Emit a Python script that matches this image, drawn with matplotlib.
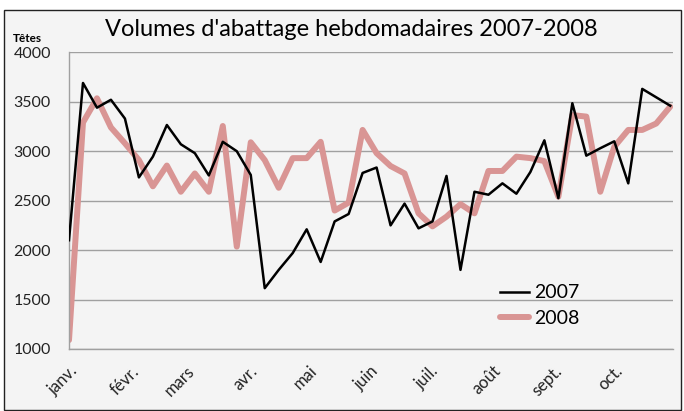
import numpy as np
import matplotlib
matplotlib.use("Agg")
import matplotlib.pyplot as plt
from matplotlib.patches import Rectangle

# weekly slaughter volumes (heads), week 0 = first week of January
v2007 = [2100, 3690, 3440, 3520, 3330, 2735, 2945, 3265, 3070, 2980,
         2755, 3095, 3000, 2760, 1615, 1800, 1970, 2210, 1880, 2290,
         2365, 2780, 2835, 2250, 2470, 2220, 2290, 2750, 1800, 2590,
         2560, 2675, 2570, 2790, 3110, 2525, 3485, 2955, 3030, 3100,
         2675, 3630, 3545, 3460]
v2008 = [1090, 3290, 3535, 3240, 3080, 2910, 2645, 2855, 2590, 2775,
         2590, 3255, 2035, 3090, 2910, 2630, 2930, 2930, 3095, 2400,
         2480, 3215, 2980, 2850, 2775, 2372, 2240, 2338, 2465, 2372,
         2800, 2800, 2945, 2930, 2900, 2540, 3365, 3350, 2590, 3045,
         3215, 3215, 3280, 3450]
months = ["janv.", "févr.", "mars", "avr.", "mai", "juin", "juil.",
          "août", "sept.", "oct."]
month_start_day = [0, 31, 59, 90, 120, 151, 181, 212, 243, 273]
yticks = [1000, 1500, 2000, 2500, 3000, 3500, 4000]

plt.rcParams['font.family'] = ['Lato', 'DejaVu Sans']

fig = plt.figure(figsize=(6.84, 4.11), dpi=100)
fig.patch.set_facecolor("white")
fig.patches.append(Rectangle((4 / 684, 1 / 411), 677 / 684, 400 / 411,
                             transform=fig.transFigure, facecolor="#F4F4F4",
                             edgecolor="#222222", linewidth=1.0, zorder=-10))

ax = fig.add_axes([69 / 684, 62 / 411, 604 / 684, 296.7 / 411])
ax.set_facecolor("none")

weeks = np.arange(len(v2007))
ax.plot(weeks, v2007, color="black", linewidth=1.8, label="2007", zorder=3)
ax.plot(weeks, v2008, color="#D99594", linewidth=4.3, label="2008", zorder=2,
        solid_capstyle="round")

ax.set_xlim(0, 43.2)
ax.set_ylim(1000, 4000)
ax.set_yticks(yticks)
ax.set_yticklabels([str(t) for t in yticks], fontsize=11.5, color="#222222")
ax.set_xticks(np.array(month_start_day) / 7)
ax.set_xticklabels(months, rotation=45, ha="right", rotation_mode="anchor",
                   fontsize=12, color="#222222")
ax.tick_params(axis="y", length=0, pad=13)
ax.tick_params(axis="x", length=0, pad=10)
ax.grid(axis="y", color="#A0A0A0", linewidth=1.0)
ax.set_axisbelow(True)
for side in ["top", "right"]:
    ax.spines[side].set_visible(False)
for side in ["left", "bottom"]:
    ax.spines[side].set_color("#A0A0A0")
    ax.spines[side].set_linewidth(1.0)

fig.text(351 / 684, 1 - 29 / 411, "Volumes d'abattage hebdomadaires 2007-2008",
         ha="center", va="center", fontsize=17, color="black")
fig.text(13 / 684, 1 - 38 / 411, "Têtes", ha="left", va="center",
         fontsize=8.5, fontweight="bold", color="black")

ax.legend(loc="upper left", bbox_to_anchor=(482 / 684, 1 - 267 / 411),
          bbox_transform=fig.transFigure, frameon=False, fontsize=14,
          handlelength=1.5, handletextpad=0.3, labelspacing=0.45)

fig.savefig("out.png", dpi=100, facecolor=fig.get_facecolor())
